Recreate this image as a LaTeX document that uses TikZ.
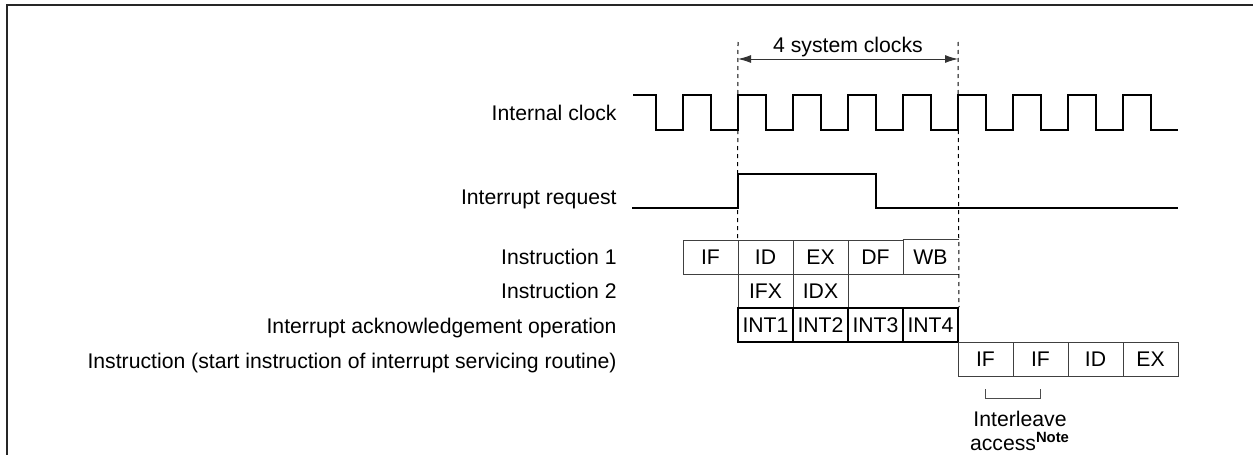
\documentclass[tikz,border=0pt]{standalone}
\usepackage{fontspec}
\setmainfont{Liberation Sans}
\usetikzlibrary{positioning, arrows.meta, calc}

\tikzset{
  sig/.style={line width=1pt, line join=miter},
  lbl/.style={anchor=base east, inner sep=0pt},
  stagebox/.style={draw=black!75, line width=0.5pt, minimum width=27.5pt, minimum height=17pt, inner sep=0pt},
  intbox/.style={stagebox, draw=black, line width=1pt},
  guide/.style={dash pattern=on 2pt off 2pt, line width=0.5pt},
}

\begin{document}
\begin{tikzpicture}[x=0.5pt, y=-0.5pt, font=\fontsize{10.6}{11.75}\selectfont]
  \useasboundingbox (0,0) rectangle (1253,455);
  % frame
  \draw[line width=1.1pt, black!85] (7,455) -- (7,5) -- (1253,5);

  % signal names
  \node[lbl] (lclk) at (617,120) {Internal clock};
  \node[lbl] (lirq) at (617,204) {Interrupt request};
  \node[lbl] (lin1) at (617,264) {Instruction 1};
  \node[lbl] (lin2) at (617,298) {Instruction 2};
  \node[lbl] (lack) at (617,333) {Interrupt acknowledgement operation};
  \node[lbl] (lisr) at (617,368) {Instruction (start instruction of interrupt servicing routine)};

  % internal clock
  \draw[sig] (633,95) foreach \r in {683,738,...,1123} { -- (\r-27.5,95) -- (\r-27.5,130) -- (\r,130) -- (\r,95) }
    -- (1150.5,95) -- (1150.5,130) -- (1178,130);

  % interrupt request
  \draw[sig] (632,208) -- (738,208) -- (738,174) -- (876,174) -- (876,208) -- (1178,208);

  % instruction 1
  \foreach \t [count=\i] in {IF,ID,EX,DF}
    \node[stagebox] (a\i) at (655.5+55*\i,257) {\t};
  \node[stagebox, draw=none] (a5) at (930.5,257) {WB};
  \draw[black!75, line width=0.5pt] (a5.north west) -- (a5.north east) (a5.south west) -- (a5.south east);

  % instruction 2
  \node[stagebox] (b1) at (765.5,291) {IFX};
  \node[stagebox] (b2) at (820.5,291) {IDX};

  % acknowledgement
  \foreach \i in {1,...,4}
    \node[intbox] (c\i) at (710.5+55*\i,325) {INT\i};

  % servicing routine
  \foreach \t [count=\i] in {IF,IF,ID,EX}
    \node[stagebox] (d\i) at (930.5+55*\i,359.5) {\t};

  % 4 system clocks
  \coordinate (g1) at (738,42);
  \coordinate (g2) at (958,42);
  \draw[guide] (g1) -- (a2.north west);
  \draw[guide] (g2) -- (c4.north east);
  \coordinate (s1) at (738,59);
  \coordinate (s2) at (958,59);
  \draw[{Latex[length=6.5pt,width=4pt]}-{Latex[length=6.5pt,width=4pt]}, black!80, line width=0.5pt] (s1) -- (s2);
  \node (lsys) at (848,47) {4 system clocks};

  % interleave access
  \draw[black!70, line width=0.5pt] ([yshift=-6pt]d1.south) -- ([yshift=-10.5pt]d1.south)
    -- ([yshift=-10.5pt]d2.south) -- ([yshift=-6pt]d2.south);
  \node[align=center] (lnote) at (1020,431) {Interleave\\access\textsuperscript{\bfseries Note}};
\end{tikzpicture}
\end{document}
